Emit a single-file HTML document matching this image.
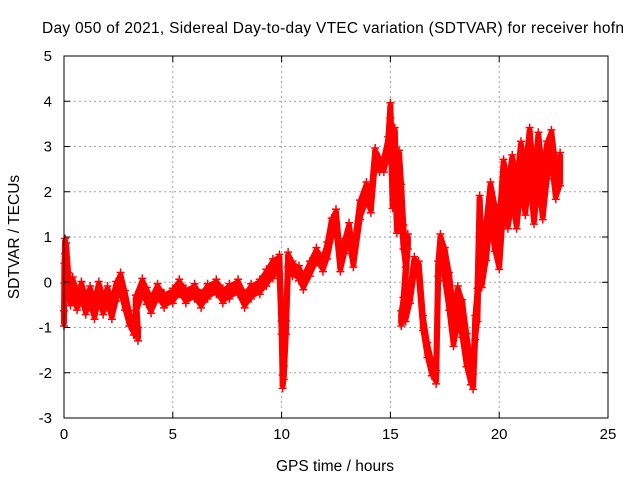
<!DOCTYPE html>
<html><head><meta charset="utf-8"><style>
body{margin:0;background:#fff}
svg text{font-family:"Liberation Sans",sans-serif;font-size:15.5px;fill:#000}
svg text.tk{font-size:15px}
</style></head><body>
<svg id="chart" width="640" height="480" xmlns="http://www.w3.org/2000/svg">
<text x="333" y="33" text-anchor="middle" textLength="582">Day 050 of 2021, Sidereal Day-to-day VTEC variation (SDTVAR) for receiver hofn</text>
<text x="335" y="471" text-anchor="middle">GPS time / hours</text>
<text x="0" y="0" text-anchor="middle" transform="translate(19,237) rotate(-90)">SDTVAR / TECUs</text>
<g id="grid"></g>
<g id="marks"></g>
<rect x="64" y="56" width="544" height="362" fill="none" stroke="#000" stroke-width="1"/>
<g id="ticks"></g>
</svg>
<script>
const xTicks=[0,5,10,15,20,25];
const yTicks=[-3,-2,-1,0,1,2,3,4,5];
const hours=[0,0.02,0.05,0.1,0.2,0.3,0.4,0.6,0.8,1.0,1.2,1.4,1.6,1.8,2.0,2.2,2.4,2.6,2.8,3.0,3.2,3.4,3.3,3.6,3.8,4.0,4.3,4.6,5.0,5.3,5.6,6.0,6.3,6.6,7.0,7.3,7.6,8.0,8.3,8.6,9.0,9.3,9.6,9.9,10.0,10.05,10.1,10.2,10.3,10.5,10.8,11.0,11.3,11.6,11.9,12.1,12.3,12.5,12.7,12.9,13.1,13.3,13.6,13.9,14.1,14.3,14.5,14.7,14.9,15.0,15.1,15.2,15.3,15.4,15.5,15.6,15.7,15.8,15.6,15.5,15.7,15.9,16.1,16.3,16.5,16.7,16.9,17.1,17.2,17.3,17.5,17.7,17.9,18.1,18.3,18.5,18.7,18.8,18.9,19.0,19.1,19.2,19.4,19.6,19.8,20.0,20.2,20.4,20.6,20.8,21.0,21.2,21.4,21.6,21.8,22.0,22.2,22.4,22.6,22.8];
const tec=[-0.8,0.2,0.8,0.7,0.0,-0.3,-0.1,-0.4,-0.2,-0.5,-0.3,-0.6,-0.2,-0.5,-0.3,-0.6,-0.2,0.0,-0.4,-0.8,-1.0,-1.15,-0.5,-0.1,-0.3,-0.5,-0.2,-0.4,-0.3,-0.1,-0.3,-0.2,-0.4,-0.2,-0.1,-0.3,-0.2,-0.1,-0.4,-0.2,-0.1,0.1,0.3,0.4,-1.0,-2.2,-2.0,-1.0,0.5,0.3,0.2,0.0,0.3,0.6,0.4,0.7,1.2,1.4,0.4,0.8,1.1,0.5,1.6,2.0,1.7,2.8,2.6,2.6,3.0,3.8,2.0,3.0,1.5,2.5,1.8,1.0,0.5,0.9,-0.5,-0.8,-0.7,-0.3,0.4,0.3,-0.9,-1.5,-1.9,-2.1,0.3,0.9,0.4,-0.2,-1.0,-0.5,-0.8,-1.5,-2.0,-2.2,-1.0,-0.5,1.5,0.3,0.9,1.8,1.2,0.8,2.2,1.7,2.3,1.7,2.6,2.0,2.9,1.8,2.8,1.9,2.7,3.0,2.2,2.5];
const spread=[0.1,0.15,0.1,0.1,0.15,0.15,0.15,0.15,0.15,0.15,0.15,0.15,0.15,0.15,0.15,0.15,0.15,0.15,0.15,0.1,0.1,0.08,0.15,0.12,0.12,0.12,0.1,0.1,0.1,0.1,0.1,0.1,0.1,0.1,0.1,0.1,0.1,0.1,0.1,0.1,0.1,0.12,0.15,0.15,0.08,0.08,0.08,0.08,0.1,0.1,0.1,0.1,0.1,0.1,0.1,0.12,0.15,0.15,0.1,0.1,0.15,0.1,0.15,0.15,0.1,0.1,0.1,0.1,0.15,0.1,0.3,0.35,0.35,0.35,0.3,0.2,0.1,0.1,0.1,0.1,0.1,0.1,0.1,0.1,0.1,0.1,0.1,0.08,0.1,0.1,0.3,0.35,0.35,0.35,0.35,0.3,0.2,0.1,0.2,0.3,0.35,0.35,0.35,0.35,0.45,0.45,0.45,0.45,0.45,0.45,0.45,0.45,0.45,0.45,0.45,0.45,0.35,0.3,0.3,0.3];
const NS="http://www.w3.org/2000/svg";
const X0=64,X1=608,Y0=418,Y1=56;
function xs(v){return X0+(v-0)/(25-0)*(X1-X0);}
function ys(v){return Y0-(v+3)/(8)*(Y0-Y1);}
const grid=document.getElementById('grid'),ticks=document.getElementById('ticks'),marks=document.getElementById('marks');
function mk(tag,attrs,parent){const e=document.createElementNS(NS,tag);for(const k in attrs)e.setAttribute(k,attrs[k]);parent.appendChild(e);return e;}
xTicks.forEach(t=>{const x=xs(t);
 if(t>0&&t<25){const g=mk('line',{x1:x,x2:x,y1:Y1,y2:Y0,stroke:'#a0a0a0','stroke-dasharray':'2,3'},grid);
 
 }
 const a=mk('line',{x1:x,x2:x,y1:Y0,y2:Y0-6,stroke:'#000'},ticks);
 const b=mk('line',{x1:x,x2:x,y1:Y1,y2:Y1+6,stroke:'#000'},ticks);
 const l=mk('text',{x:x,y:Y0+21,'text-anchor':'middle','class':'tk'},ticks);l.textContent=t;
 
 });
yTicks.forEach(t=>{const y=ys(t);
 if(t>-3&&t<5){const g=mk('line',{x1:X0,x2:X1,y1:y,y2:y,stroke:'#a0a0a0','stroke-dasharray':'2,3'},grid);
 
 }
 const a=mk('line',{x1:X0,x2:X0+6,y1:y,y2:y,stroke:'#000'},ticks);
 const b=mk('line',{x1:X1,x2:X1-6,y1:y,y2:y,stroke:'#000'},ticks);
 const l=mk('text',{x:X0-12,y:y+5,'text-anchor':'end','class':'tk'},ticks);l.textContent=t;
 
 });
for(let i=0;i<hours.length-1;i++){
 const xa=xs(hours[i]),xb=xs(hours[i+1]);
 const q=mk('polygon',{points:`${xa},${ys(tec[i]+spread[i])} ${xb},${ys(tec[i+1]+spread[i+1])} ${xb},${ys(tec[i+1]-spread[i+1])} ${xa},${ys(tec[i]-spread[i])}`,fill:'#ff0000',stroke:'#ff0000','stroke-width':6,'stroke-linejoin':'round'},marks);
 
 
}
hours.forEach((h,i)=>{const x=xs(h),yt=ys(tec[i]+spread[i])-3,yb=ys(tec[i]-spread[i])+3;
 const p=mk('path',{d:`M${x-4},${yt}H${x+4}M${x},${yt-4}V${yt+4}M${x-4},${yb}H${x+4}M${x},${yb-4}V${yb+4}`,stroke:'#ff0000','stroke-width':1.5},marks);
 
 });
</script>
</body></html>
